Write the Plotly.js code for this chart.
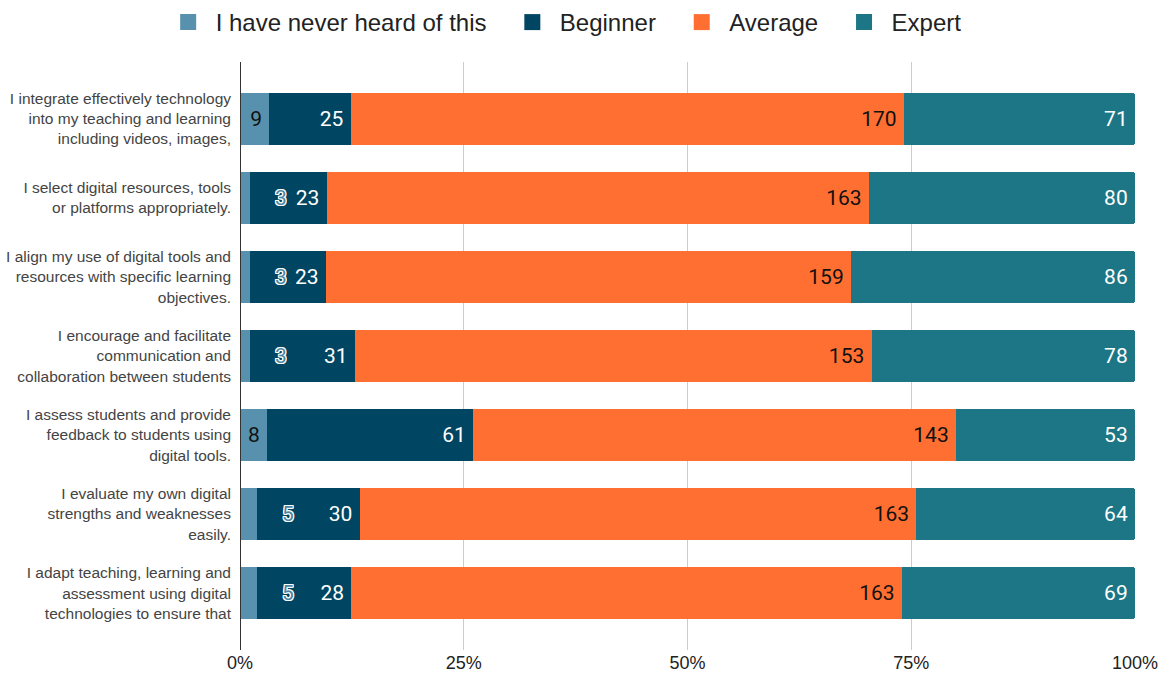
<!DOCTYPE html>
<html>
<head>
<meta charset="utf-8">
<script src="https://cdn.plot.ly/plotly-3.0.1.min.js"></script>
<style>html,body{margin:0;padding:0;background:#fff;}#chart{width:1167px;height:678px;}</style>
</head>
<body>
<div id="chart"></div>
<script>
const categories = [
  "I integrate effectively technology<br>into my teaching and learning<br>including videos, images,",
  "I select digital resources, tools<br>or platforms appropriately.",
  "I align my use of digital tools and<br>resources with specific learning<br>objectives.",
  "I encourage and facilitate<br>communication and<br>collaboration between students",
  "I assess students and provide<br>feedback to students using<br>digital tools.",
  "I evaluate my own digital<br>strengths and weaknesses<br>easily.",
  "I adapt teaching, learning and<br>assessment using digital<br>technologies to ensure that"
];
const seriesNames = ["I have never heard of this", "Beginner", "Average", "Expert"];
const neverHeard = [9, 3, 3, 3, 8, 5, 5];
const beginner = [25, 23, 23, 31, 61, 30, 28];
const average = [170, 163, 159, 153, 143, 163, 163];
const expert = [71, 80, 86, 78, 53, 64, 69];
const tickVals = [0, 25, 50, 75, 100];
const tickText = ["0%", "25%", "50%", "75%", "100%"];

const colors = ["#5891AD", "#004561", "#FF6F31", "#1C7685"];
const textColors = ["#111", "#fff", "#111", "#fff"];
const series = [neverHeard, beginner, average, expert];
const totals = categories.map((_, i) => series.reduce((s, a) => s + a[i], 0));
const smallLimit = 6;

const traces = series.map((vals, k) => ({
  type: 'bar',
  orientation: 'h',
  name: seriesNames[k],
  y: categories,
  x: vals,
  showlegend: false,
  marker: {color: colors[k], line: {width: 0}},
  text: vals.map(v => (k === 0 && v < smallLimit) ? '' : String(v) + '\u2009'),
  textposition: 'inside',
  insidetextanchor: 'end',
  constraintext: 'none',
  textfont: {family: 'Roboto, sans-serif', size: 21, color: textColors[k]},
  hoverinfo: 'skip'
}));

// legend entries (square swatches)
seriesNames.forEach((name, k) => {
  traces.push({
    type: 'scatter', mode: 'markers',
    name: name + (k < seriesNames.length - 1 ? '\u00a0\u00a0' : ''),
    x: [null], y: [null],
    marker: {symbol: 'square', size: 18, color: colors[k]},
    showlegend: true, hoverinfo: 'skip'
  });
});

const outline = '1px 1px 0 #fff, -1px -1px 0 #fff, 1px -1px 0 #fff, -1px 1px 0 #fff, 0 1px 0 #fff, 0 -1px 0 #fff, 1px 0 0 #fff, -1px 0 0 #fff';
const annotations = [];
neverHeard.forEach((v, i) => {
  if (v < smallLimit) {
    annotations.push({
      x: v / totals[i] * 100,
      y: categories[i],
      xref: 'x', yref: 'y',
      text: String(v),
      showarrow: false,
      xanchor: 'left',
      xshift: 23,
      font: {family: 'Roboto, sans-serif', size: 21, color: '#4a86a4', shadow: outline}
    });
  }
});

const layout = {
  width: 1167, height: 678,
  margin: {l: 240, r: 32, t: 62, b: 28},
  barmode: 'stack',
  barnorm: 'percent',
  bargap: 0.34,
  barcornerradius: 3,
  paper_bgcolor: '#fff',
  plot_bgcolor: '#fff',
  showlegend: true,
  legend: {
    orientation: 'h', xref: 'container', yref: 'container',
    x: 0.483, xanchor: 'center', y: 1.0, yanchor: 'top',
    font: {family: 'Liberation Sans, Arial, sans-serif', size: 24, color: '#222'},
    traceorder: 'normal', itemwidth: 45
  },
  xaxis: {
    range: [0, 100],
    tickvals: tickVals, ticktext: tickText,
    showgrid: true, gridcolor: '#cccccc', gridwidth: 1,
    zeroline: false, showline: false,
    tickfont: {family: 'Liberation Sans, Arial, sans-serif', size: 18, color: '#222'},
    fixedrange: true
  },
  yaxis: {
    type: 'category',
    range: [6.72, -0.72],
    showgrid: false, zeroline: false,
    showline: false,
    ticks: '', ticklabelstandoff: 8,
    tickfont: {family: 'Liberation Sans, Arial, sans-serif', size: 15.5, color: '#444'},
    fixedrange: true
  },
  shapes: [{type: 'line', xref: 'x', yref: 'paper', x0: 0, x1: 0, y0: 0, y1: 1, line: {color: '#333', width: 2}}],
  annotations: annotations
};

Plotly.newPlot('chart', traces, layout, {displayModeBar: false, staticPlot: true});
</script>
</body>
</html>
